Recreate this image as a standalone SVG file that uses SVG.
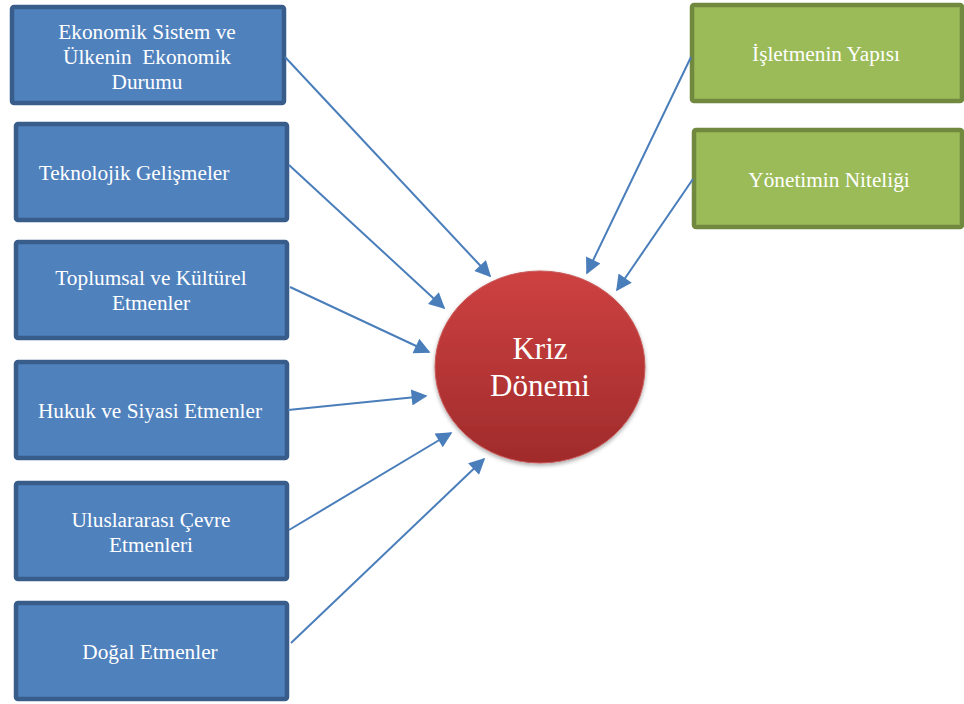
<svg xmlns="http://www.w3.org/2000/svg" width="964" height="704" viewBox="0 0 964 704">
  <style>
    .blue rect { fill: #4f81bd; stroke: #385d8a; stroke-width: 4.5; }
    .green rect { fill: #9bbb59; stroke: #71893f; stroke-width: 4.5; }
    text { font-family: "Liberation Serif", "Times New Roman", serif; fill: #ffffff; font-size: 21.3px; text-anchor: middle; white-space: pre; }
    .big { font-size: 31px; }
    .conn line { stroke: #4a7ebb; stroke-width: 2; marker-end: url(#head); }
  </style>
  <defs>
    <marker id="head" viewBox="0 0 10 10" refX="9" refY="5" markerWidth="9" markerHeight="8" markerUnits="strokeWidth" orient="auto">
      <path d="M0,0 L10,5 L0,10 z" fill="#4a7ebb"/>
    </marker>
    <linearGradient id="red" x1="0" y1="0" x2="0" y2="1">
      <stop offset="0" stop-color="#ce4141"/>
      <stop offset="1" stop-color="#a02b2b"/>
    </linearGradient>
    <filter id="shadow" x="-20%" y="-20%" width="140%" height="140%">
      <feGaussianBlur in="SourceAlpha" stdDeviation="2"/>
      <feOffset dx="0" dy="2" result="b"/>
      <feComponentTransfer><feFuncA type="linear" slope="0.35"/></feComponentTransfer>
      <feMerge><feMergeNode/><feMergeNode in="SourceGraphic"/></feMerge>
    </filter>
  </defs>

  <!-- left-hand factor boxes -->
  <g id="ekonomik" class="blue">
    <rect x="12" y="7" width="272" height="96" rx="2"/>
    <text x="147" y="39">Ekonomik Sistem ve</text>
    <text x="147" y="64">Ülkenin  Ekonomik</text>
    <text x="147" y="89">Durumu</text>
  </g>
  <g id="teknoloji" class="blue">
    <rect x="16" y="124" width="271" height="96" rx="2"/>
    <text x="134" y="180">Teknolojik Gelişmeler</text>
  </g>
  <g id="toplumsal" class="blue">
    <rect x="16" y="242" width="271" height="96" rx="2"/>
    <text x="151" y="285">Toplumsal ve Kültürel</text>
    <text x="151" y="310">Etmenler</text>
  </g>
  <g id="hukuk" class="blue">
    <rect x="16" y="362" width="271" height="96" rx="2"/>
    <text x="150" y="418">Hukuk ve Siyasi Etmenler</text>
  </g>
  <g id="uluslararasi" class="blue">
    <rect x="16" y="483" width="271" height="96" rx="2"/>
    <text x="151" y="527">Uluslararası Çevre</text>
    <text x="151" y="552">Etmenleri</text>
  </g>
  <g id="dogal" class="blue">
    <rect x="16" y="603" width="271" height="96" rx="2"/>
    <text x="150" y="659">Doğal Etmenler</text>
  </g>

  <!-- right-hand internal factor boxes -->
  <g id="isletme" class="green">
    <rect x="692" y="5" width="270" height="96" rx="2"/>
    <text x="826" y="61">İşletmenin Yapısı</text>
  </g>
  <g id="yonetim" class="green">
    <rect x="694" y="130" width="268" height="97" rx="2"/>
    <text x="829" y="187">Yönetimin Niteliği</text>
  </g>

  <!-- central node -->
  <g id="kriz">
    <ellipse cx="540" cy="367" rx="105" ry="96" fill="url(#red)" stroke="#c95a5a" stroke-width="1" filter="url(#shadow)"/>
    <text class="big" x="540" y="359">Kriz</text>
    <text class="big" x="540" y="396">Dönemi</text>
  </g>

  <!-- connectors -->
  <g id="connectors" class="conn">
    <line x1="285" y1="57" x2="490" y2="276"/>
    <line x1="289" y1="165" x2="444" y2="308"/>
    <line x1="290" y1="287" x2="429" y2="352"/>
    <line x1="288" y1="410" x2="426" y2="396"/>
    <line x1="289" y1="530" x2="451" y2="433"/>
    <line x1="291" y1="643" x2="484" y2="459"/>
    <line x1="691" y1="57" x2="587" y2="273"/>
    <line x1="693" y1="179" x2="617" y2="290"/>
  </g>
</svg>
